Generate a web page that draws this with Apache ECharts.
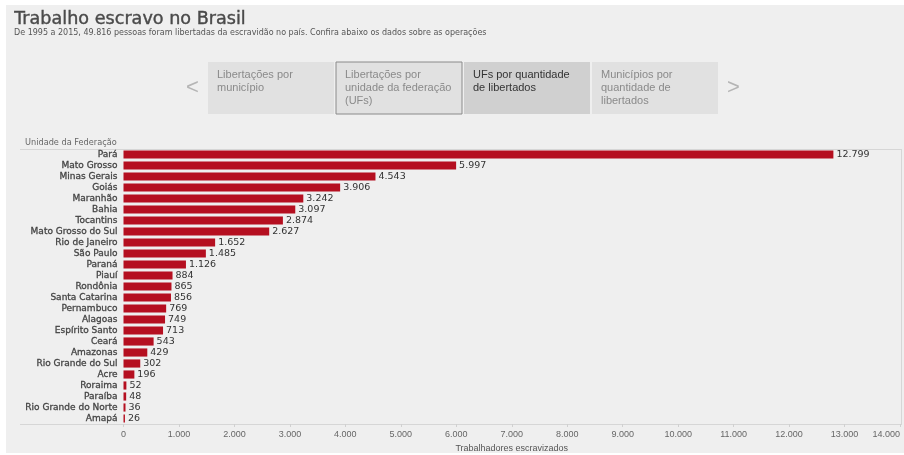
<!DOCTYPE html>
<html>
<head>
<meta charset="utf-8">
<script src="https://cdn.jsdelivr.net/npm/echarts@6/dist/echarts.min.js"></script>
<style>
  html, body { margin: 0; padding: 0; background: #fff; }
  #chart { width: 904px; height: 455px; }
</style>
</head>
<body>
<div id="chart"></div>
<script>
// dados: libertações por UF, 1995-2015
var estados = ['Pará', 'Mato Grosso', 'Minas Gerais', 'Goiás', 'Maranhão', 'Bahia', 'Tocantins',
  'Mato Grosso do Sul', 'Rio de Janeiro', 'São Paulo', 'Paraná', 'Piauí', 'Rondônia',
  'Santa Catarina', 'Pernambuco', 'Alagoas', 'Espírito Santo', 'Ceará', 'Amazonas',
  'Rio Grande do Sul', 'Acre', 'Roraima', 'Paraíba', 'Rio Grande do Norte', 'Amapá'];
var libertados = [12799, 5997, 4543, 3906, 3242, 3097, 2874, 2627, 1652, 1485, 1126, 884, 865,
  856, 769, 749, 713, 543, 429, 302, 196, 52, 48, 36, 26];
var abas = [
  'Libertações por\nmunicípio',
  'Libertações por\nunidade da federação\n(UFs)',
  'UFs por quantidade\nde libertados',
  'Municípios por\nquantidade de\nlibertados'
];
var abaAtiva = 2;
var abaSelecionada = 1;

function fmt(n) {
  return String(n).replace(/\B(?=(\d{3})+(?!\d))/g, '.');
}

var myChart = echarts.init(document.getElementById('chart'));

var linha = { stroke: '#d6d6d6', lineWidth: 1 };
var graficos = [
  { type: 'rect', shape: { x: 6, y: 5, width: 898, height: 448 }, style: { fill: '#efefef' }, z: -10 },
  { type: 'text', left: 14, top: 10, style: { text: 'Trabalho escravo no Brasil', fill: '#4a4a4a', font: '17.6px "DejaVu Sans"', stroke: '#4a4a4a', lineWidth: 0.4 } },
  { type: 'text', left: 14, top: 29, style: { text: 'De 1995 a 2015, 49.816 pessoas foram libertadas da escravidão no país. Confira abaixo os dados sobre as operações', fill: '#555', font: '8px "DejaVu Sans"' } },
  { type: 'text', left: 186, top: 77, style: { text: '<', fill: '#b5b5b5', font: '22px "Liberation Sans"' } },
  { type: 'text', left: 727, top: 77, style: { text: '>', fill: '#b5b5b5', font: '22px "Liberation Sans"' } },
  { type: 'text', left: 25, top: 139, style: { text: 'Unidade da Federação', fill: '#666', font: '8.2px "DejaVu Sans"' } },
  { type: 'line', shape: { x1: 20, y1: 149.5, x2: 902, y2: 149.5 }, style: linha },
  { type: 'line', shape: { x1: 20, y1: 424.5, x2: 902, y2: 424.5 }, style: linha },
  { type: 'line', shape: { x1: 901.5, y1: 149, x2: 901.5, y2: 425 }, style: linha }
];
var xs = [208, 336, 464, 592];
abas.forEach(function (t, i) {
  graficos.push({
    type: 'rect',
    shape: { x: xs[i], y: 62, width: 126, height: 52 },
    style: {
      fill: i === abaAtiva ? '#d0d0d0' : '#e1e1e1',
      stroke: i === abaSelecionada ? '#8a8a8a' : null,
      lineWidth: 1
    }
  });
  graficos.push({
    type: 'text', left: xs[i] + 9, top: 68,
    style: { text: t, fill: i === abaAtiva ? '#333' : '#8a8a8a', font: '11px "Liberation Sans"', lineHeight: 13 }
  });
});

option = {
  backgroundColor: '#fff',
  animation: false,
  graphic: graficos,
  grid: { left: 123.5, right: 4, top: 149, bottom: 31, outerBoundsMode: 'none', containLabel: false },
  xAxis: {
    type: 'value', min: 0, max: 14000, interval: 1000,
    name: 'Trabalhadores escravizados', nameLocation: 'middle', nameGap: 17,
    nameTextStyle: { color: '#555', fontSize: 9, fontFamily: 'Liberation Sans' },
    axisLine: { show: false },
    axisTick: { show: true, length: 3, lineStyle: { color: '#d0d0d0' } },
    splitLine: { show: false },
    axisLabel: { color: '#666', fontSize: 9, fontFamily: 'Liberation Sans', margin: 6, formatter: fmt, alignMaxLabel: 'right' }
  },
  yAxis: {
    type: 'category', data: estados, inverse: true,
    axisLine: { show: false },
    axisTick: { show: false },
    axisLabel: { interval: 0, color: '#444', fontSize: 9, fontFamily: 'DejaVu Sans', margin: 6,
      textBorderColor: '#444', textBorderWidth: 0.3 }
  },
  series: [{
    type: 'bar', data: libertados, barCategoryGap: '26%',
    itemStyle: { color: '#b50f20' },
    label: { show: true, position: 'right', distance: 3, color: '#333', fontSize: 9.5, fontFamily: 'DejaVu Sans',
      formatter: function (p) { return fmt(p.value); } }
  }]
};
myChart.setOption(option);
</script>
</body>
</html>
